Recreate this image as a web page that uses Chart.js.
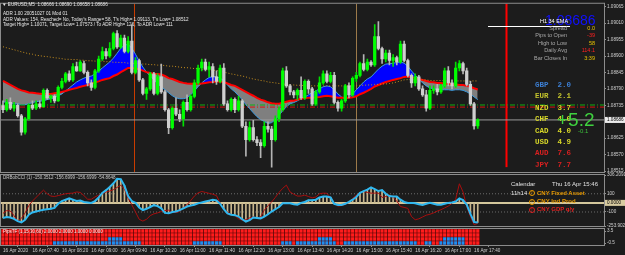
<!DOCTYPE html>
<html>
<head>
<meta charset="utf-8">
<script src="https://cdn.jsdelivr.net/npm/chart.js@4.4.0/dist/chart.umd.min.js"></script>
<style>
html, body { margin: 0; padding: 0; background: #1c1c1c; }
#wrap { position: relative; width: 625px; height: 255px; overflow: hidden; background: #1c1c1c;
        font-family: "Liberation Sans", Arial, sans-serif; }
canvas { position: absolute; left: 0; top: 0; }
.t { position: absolute; white-space: nowrap; line-height: 1; }
.r { text-align: right; }
.cur { font-family: "Liberation Mono", monospace; font-weight: bold; font-size: 7.5px; }
.ic { display: inline-block; width: 4px; height: 4px; border: 1px solid currentColor; border-radius: 50%;
      font-size: 4px; line-height: 4px; text-align: center; margin-right: 2px; vertical-align: middle; }
</style>
</head>
<body>
<div id="wrap">
  <canvas id="cMain" width="625" height="255"></canvas>
  <canvas id="cCci" width="625" height="255"></canvas>
  <canvas id="cGrid" width="625" height="255"></canvas>

  <!-- chart header -->
  <div class="t" style="left:2px;top:2.7px;font-size:4.6px;color:#e8e8e8">▼ EURUSD,M5&nbsp; 1.08666 1.08690 1.08658 1.08686</div>
  <div class="t" style="left:3px;top:11.8px;font-size:4.6px;color:#e8e8e8">ADR 1.00 20051027 01 Mod 01</div>
  <div class="t" style="left:3px;top:17.5px;font-size:4.6px;color:#e8e8e8">ADR Values: 154, Reached= No, Today's Range= 58, T's High= 1.09113, T's Low= 1.08512</div>
  <div class="t" style="left:3px;top:22.8px;font-size:4.6px;color:#e8e8e8">Target High= 1.10071, Target Low= 1.07573 / To ADR High= 126, To ADR Low= 111</div>

  <!-- info panel -->
  <div class="t" style="left:545px;top:13.2px;font-size:14px;color:#1010ff">1.08686</div>
  <div class="t" style="left:540px;top:19px;font-size:5.5px;color:#ffffff">H1 34 EMA</div>
  <div style="position:absolute;left:488px;top:26px;width:82px;height:1px;background:#ffffff"></div>
  <div class="t r" style="right:58px;top:26.3px;font-size:5.5px;color:#a8a8a8">Spread</div>
  <div class="t r" style="right:58px;top:33.3px;font-size:5.5px;color:#a8a8a8">Pips to Open</div>
  <div class="t r" style="right:58px;top:40.6px;font-size:5.5px;color:#a8a8a8">High to Low</div>
  <div class="t r" style="right:58px;top:48.1px;font-size:5.5px;color:#a8a8a8">Daily Avg</div>
  <div class="t r" style="right:58px;top:55.6px;font-size:5.5px;color:#a8a8a8">Bar Closes In</div>
  <div class="t r" style="right:30px;top:26.3px;font-size:5.5px;color:#e8c400">0.0</div>
  <div class="t r" style="right:30px;top:33.3px;font-size:5.5px;color:#ff2020">-39</div>
  <div class="t r" style="right:30px;top:40.6px;font-size:5.5px;color:#e8c400">58</div>
  <div class="t r" style="right:30px;top:48.1px;font-size:5.5px;color:#ff2020">114.1</div>
  <div class="t r" style="right:30px;top:55.6px;font-size:5.5px;color:#e8c400">3:39</div>

  <!-- currency strength -->
  <div class="t cur" style="left:535px;top:82px;color:#3c7fd4">GBP&nbsp; 2.0</div>
  <div class="t cur" style="left:535px;top:93.4px;color:#c4c42c">EUR&nbsp; 2.1</div>
  <div class="t cur" style="left:535px;top:104.8px;color:#d8d828">NZD&nbsp; 3.7</div>
  <div class="t cur" style="left:535px;top:116.2px;color:#d8d828">CHF&nbsp; 4.0</div>
  <div class="t cur" style="left:535px;top:127.6px;color:#d8d828">CAD&nbsp; 4.0</div>
  <div class="t cur" style="left:535px;top:139px;color:#d8d828">USD&nbsp; 4.9</div>
  <div class="t cur" style="left:535px;top:150.4px;color:#d82020">AUD&nbsp; 7.6</div>
  <div class="t cur" style="left:535px;top:161.8px;color:#d82020">JPY&nbsp; 7.7</div>
  <div class="t" style="left:557px;top:110px;font-size:19px;color:#3fd13f">+5.2</div>
  <div class="t" style="left:578px;top:127.7px;font-size:6px;color:#3cc03c">-0.1</div>

  <!-- CCI window texts -->
  <div class="t" style="left:3px;top:176.2px;font-size:4.5px;color:#c8c8c8">DRBobCCI (1) -150.3512 -156.6999 -156.6999 -54.8648</div>
  <div class="t" style="left:511px;top:181.3px;font-size:6px;color:#e0e0e0">Calendar</div>
  <div class="t" style="left:552px;top:181.3px;font-size:6px;color:#e0e0e0">Thu 16 Apr 15:46</div>
  <div class="t" style="left:511px;top:189.7px;font-size:6px;color:#e0e0e0">11h14</div>
  <div class="t" style="left:529px;top:189.7px;font-size:6px;font-weight:bold;color:#e89a00"><span class="ic">!</span>CNY Fixed Asset</div>
  <div class="t" style="left:529px;top:198.3px;font-size:6px;font-weight:bold;color:#e89a00"><span class="ic">!</span>CNY Ind Prod</div>
  <div class="t" style="left:529px;top:206.3px;font-size:6px;font-weight:bold;color:#e02020"><span class="ic">!</span>CNY GDP q/y</div>

  <!-- grid window text -->
  <div class="t" style="left:3px;top:229.8px;font-size:4.5px;color:#f0f0f0">PipsTF (1,15,30,60) 2.0000 2.0000 1.0000 0.0000</div>
</div>

<script>
// prices are kept in pips above base
const base = 1.08;
const pip = 0.0001;

const opens = [73.4,72,74.5,72.5,73.5,70,64.5,69,73.5,72.5,
  74,73,78.5,76,76.5,75,79.5,81.5,84,82,
  86.5,85,87.5,84.5,81,79.5,85,89,91.5,90,
  92.5,97.5,93,96,91.5,95,84.5,88.5,82,77.5,
  79,84,77.5,83,78,72,66,72.5,70.5,69,
  74.5,72,76.5,81,86,88,85.5,86.5,83,81.5,
  86,74,72,75.5,72,75,66.5,62,66,62,
  61,60,66.5,65.5,62,69,72,85,80,78,
  77,78.5,76,81.5,79,74,78,81,84,81.5,
  83.5,74.5,72.5,75,80,77,82.5,83.5,87.5,85.5,
  88,87,96.5,92.5,89,91,88.5,89.5,88,94,
  88.5,83.5,81,83,79,77,72.5,78.5,79,78,
  80,85,81,80,86,87.5,85,80.5,74,66.6];
const highs = [75,75.5,76,74.5,74,70.5,69.5,74,75,75,
  75,79,79,77,77,80,82.5,84.5,85,87.5,
  88,88.5,88.3,85,82,85.5,90,93,92.5,94.5,
  98,98.5,97,97,96.5,100.5,89.5,89,82.5,79.5,
  84.5,84.5,84,87.3,78.5,72.5,73,76,72,75,
  77,77,82,87,89,89,88,87.5,85,87,
  87.5,75,76,76,76.5,75.5,68,68,68.5,63,
  62,68,68,66.5,70,73,86,86.5,80.5,78.5,
  79,83,82,82,79.5,78.5,83,85,85,84.5,
  84.5,75,75.5,80.5,81,83,84.5,88,90.5,89,
  88.5,100.5,101.5,93,92,92,90.5,90,95,95,
  89,84,84,83.5,80,78.5,80,80,80.5,80.5,
  86,86.5,82,88,88.5,88,86,81.5,74.5,69];
const lows = [71,71.5,72,71.5,69.5,63.5,63.8,68.5,72,72,
  72.5,72.8,75.5,74.5,74.3,74.8,79,81,81.5,81.5,
  84.8,84.8,84,80,78.5,79,84.5,88.5,89,89.5,
  92,92.5,92.5,91,91,84,84,81.5,77,75.5,
  78.5,77,77,77.5,71.5,64,65.5,70,68,66.5,
  71.5,71.5,76,80.5,85,85,83,81,80.5,81,
  73.5,71.5,71.5,71,71.5,66,56.5,61.5,61.5,60,
  56,59.5,64.5,52.8,61.5,68,71.5,79.5,77,76,
  75.5,75.5,75.5,77.5,73.5,73.5,77.5,80.5,81,81,
  74,71.5,71.5,74.5,76,76.5,81.5,83,85,85,
  86.5,86.5,92,87.5,88,87,86.5,87,87.5,88,
  83,79.5,80,78.5,76.5,71.5,72,77.5,77,77.5,
  79.5,80,79,79.5,85,84,80,73.5,65.5,65.8];
const closes = [72,74.5,72.5,73.5,70,64.5,69,73.5,72.5,74,
  73,78.5,76,76.5,75,79.5,81.5,84,82,86.5,
  85,88,84.5,81,79.5,85,89,91.5,90,92.5,
  97.5,93,96,91.5,95,84.5,88.5,82,77.5,79,
  84,77.5,83,78,72,66,72.5,70.5,69,74.5,
  72,76.5,81,86,88,85.5,86.5,83,81.5,86,
  74,72,75.5,72,75,66.5,62,66,62,61,
  60,66.5,65.5,62,69,72,85,80,78,77,
  78.5,76,81.5,79,74,78,81,84,81.5,83.5,
  74.5,72.5,75,80,77,82.5,83.5,87.5,85.5,88,
  87,96.5,92.5,89,91,88.5,89.5,88,94,88.5,
  83.5,81,83,79,77,72.5,78.5,79,78,80,
  85,81,80,86,87.5,85,80.5,74,66.6,68.6];

// moving averages (pips)
const emaRed = [81.65,81.0,80.3,79.7,79.0,78.5,78.2,77.8,77.7,77.5,
  77.4,77.3,77.3,77.3,77.5,77.7,78.0,78.3,78.7,79.0,
  79.3,79.7,80.0,80.3,80.7,81.2,81.5,82.0,82.3,82.6,
  83.3,83.8,84.6,85.3,86.0,86.0,85.8,85.6,85.1,84.6,
  84.3,84.1,84.0,83.8,83.3,82.6,82.3,81.8,81.3,81.0,
  80.8,80.7,80.7,80.7,80.8,81.0,81.2,81.3,81.5,81.5,
  81.3,80.8,80.3,80.0,79.3,78.7,78.0,77.3,76.7,76.0,
  75.4,75.0,74.5,74.2,74.0,74.0,74.4,74.7,75.0,75.0,
  75.4,75.7,75.9,76.0,76.0,76.2,76.3,76.5,76.7,76.5,
  76.3,76.0,76.0,76.0,76.0,76.2,76.5,77.2,77.7,78.3,
  79.0,79.8,80.3,80.8,81.3,81.65,82.0,82.3,82.6,83.0,
  83.1,83.0,82.6,82.3,82.0,81.65,81.3,81.2,81.0,81.0,
  80.8,80.7,80.5,80.5,80.3,80.3,80.0,79.7,79.2,78.8];
const maBlue = [74.7,74.4,74.0,73.9,74.0,73.7,73.7,74.0,74.4,74.7,
  74.9,75.0,75.4,75.7,76.0,76.7,77.3,78.3,79.3,80.3,
  81.3,82.0,82.6,83.0,83.3,84.0,85.0,86.0,87.0,88.0,
  89.3,90.9,92.6,93.6,93.9,92.6,90.6,88.3,86.3,84.6,
  83.3,82.0,80.7,79.7,78.7,77.7,76.7,76.0,75.7,75.7,
  76.0,77.0,78.3,79.7,81.0,82.0,82.8,83.1,83.0,82.6,
  81.7,80.3,79.0,78.0,76.7,75.4,73.7,72.4,71.0,69.7,
  68.7,68.1,67.4,67.7,68.7,70.1,71.7,73.0,74.0,74.4,
  75.0,75.7,76.3,77.0,77.7,78.3,79.0,79.7,80.0,79.7,
  78.7,77.3,76.3,75.7,76.0,77.3,78.7,80.0,81.3,82.3,
  83.0,84.3,85.6,86.6,87.3,87.4,87.6,87.8,88.0,87.6,
  86.6,85.0,83.6,82.3,81.0,80.0,79.3,79.0,78.8,78.7,
  78.7,78.7,78.5,78.7,78.7,78.5,78.0,77.3,76.3,75.4];
const emaH1 = [93.1,92.75,92.4,92.1,91.75,91.4,91.1,90.75,90.6,90.25,
  90.1,89.9,89.8,89.6,89.4,89.3,89.1,88.9,88.9,88.8,
  88.8,88.6,88.6,88.4,88.4,88.3,88.3,88.3,88.1,88.1,
  87.9,87.9,87.8,87.8,87.6,87.6,87.45,87.45,87.3,87.3,
  87.1,87.1,86.95,86.95,86.8,86.6,86.6,86.45,86.3,86.1,
  86.1,85.95,85.8,85.8,85.6,85.5,85.3,85.3,85.1,85.0,
  84.6,84.3,84.0,83.8,83.5,83.3,83.0,82.6,82.3,82.1,
  81.8,81.65,81.3,81.15,81.0,80.8,80.65,80.5,80.3,80.3,
  80.2,80.2,80.0,80.0,80.0,80.0,80.0,80.0,80.0,80.0,
  80.0,80.0,80.0,80.0,80.0,80.0,80.0,80.2,80.2,80.3,
  80.3,80.5,80.5,80.65,80.65,80.8,81.0,81.3,81.65,82.0,
  82.1,82.1,82.0,82.0,82.0,82.0,81.8,81.8,81.8,81.8,
  81.65,81.65,81.65,81.65,81.65,81.65,81.65,81.65,81.65,81.65];

// dash-dot levels (pips): green, red
const levels = [73.6, 72.9];
const priceTicks = [1.08515, 1.08570, 1.08625, 1.08680, 1.08735, 1.08790,
  1.08845, 1.08900, 1.08955, 1.09010, 1.09065];

// CCI window
const cciFast = [-165,-155,-160,-175,-200,-215,-185,-130,-105,-95,
  -85,-75,-70,-65,-55,-10,20,35,50,35,
  20,25,10,5,0,20,60,110,140,175,
  215,265,260,190,75,20,0,-50,-80,-65,
  -45,-25,-35,-60,-110,-115,-100,-95,-80,-60,
  -40,-30,-20,-5,5,15,25,33,28,-10,
  -70,-115,-130,-135,-150,-180,-205,-190,-160,-165,
  -170,-150,-125,-95,-70,-45,-5,-5,-5,-15,
  -20,0,10,30,30,35,60,70,70,60,
  -10,-22,-22,-10,10,35,65,110,130,145,
  170,150,130,140,100,75,70,70,35,10,
  0,0,-5,-15,-22,-10,0,-10,-20,-20,
  -10,0,5,15,50,30,-20,-120,-210,-215];
const cciSlow = [-115,-85,-90,-140,-200,-170,-110,-30,20,60,
  100,140,100,75,70,80,90,100,105,107,
  120,115,80,40,40,65,85,100,120,130,
  145,170,195,150,50,-20,-100,-180,-200,-180,
  -140,-120,-110,-95,-85,-80,-105,-105,-95,-50,
  -20,25,75,110,125,115,105,95,80,0,
  -70,-100,-125,-140,-175,-190,-185,-165,-155,-165,
  -155,-80,-30,10,60,115,160,195,120,95,
  75,75,85,70,55,65,100,107,105,60,
  0,-35,-30,-15,5,50,85,115,125,115,
  107,107,107,60,70,85,60,20,-40,-50,
  -60,-150,-185,-175,-155,-135,-125,-110,-90,-75,
  -55,-35,-5,40,210,120,-40,-150,-240,-226];
const cciTicks = [306.2091, 100, 0, -100, -253.9021];
const cciTickLabels = ['306.2091', '100', '0.0000', '-100', '-253.9021'];

// pips grid: blue spans per row (bar index ranges), bottom row first
const gridBlue = [
  [[14,37],[52,59],[76,78],[80,90],[93,112],[115,116],[119,125]],
  [[29,32],[86,89],[120,125]],
  [],
  []
];

// time axis
const timeTickBars = [0,8,16,24,32,40,48,56,64,72,80,88,96,104,112,120,128];
const timeLabels = ['16 Apr 2020','16 Apr 07:40','16 Apr 08:20','16 Apr 09:00','16 Apr 09:40',
  '16 Apr 10:20','16 Apr 11:00','16 Apr 11:40','16 Apr 12:20','16 Apr 13:00','16 Apr 13:40',
  '16 Apr 14:20','16 Apr 15:00','16 Apr 15:40','16 Apr 16:20','16 Apr 17:00','16 Apr 17:40'];

// vertical markers (bar position)
const markerBars = [35.6, 95.8, 136.7];

const xMin = -0.815, xMax = 163.3;
const idx = closes.map((_, i) => i);
const xy = arr => arr.map((v, i) => ({ x: i, y: v }));
const hline = v => [{ x: xMin, y: v }, { x: xMax, y: v }];
const up = i => closes[i] >= opens[i];
const tickFont = { size: 4.6, family: 'Liberation Sans' };

const mtPlugin = {
  id: 'mt',
  beforeDatasetsDraw(chart, args, o) {
    const { ctx, chartArea: a, scales } = chart;
    (o.vlines || []).forEach(v => {
      const px = Math.round(scales.x.getPixelForValue(v.bar)) + 0.5;
      const yEnd = v.to == null ? a.bottom : scales.y.getPixelForValue(v.to);
      ctx.save();
      ctx.strokeStyle = v.color;
      ctx.lineWidth = v.width;
      ctx.beginPath();
      ctx.moveTo(px, a.top);
      ctx.lineTo(px, yEnd);
      ctx.stroke();
      ctx.restore();
    });
  },
  afterDraw(chart, args, o) {
    const { ctx, chartArea: a, scales } = chart;
    ctx.save();
    ctx.strokeStyle = '#8c8c8c';
    ctx.lineWidth = 1;
    ctx.strokeRect(0.5, a.top - 0.5, a.right, a.bottom - a.top + 1);
    if (o.tag) {
      const y = scales.y.getPixelForValue(o.tag.value);
      ctx.fillStyle = o.tag.bg;
      ctx.fillRect(a.right + 1, y - 3, 20, 6);
      ctx.fillStyle = '#000';
      ctx.font = '4.6px "Liberation Sans"';
      ctx.textBaseline = 'middle';
      ctx.fillText(o.tag.text, a.right + 3, y + 0.3);
    }
    ctx.restore();
  }
};

const rightAxis = (min, max, ticks, label) => ({
  position: 'right', min, max,
  afterFit: s => { s.width = 21; },
  afterBuildTicks: s => { s.ticks = ticks.map(v => ({ value: v })); },
  ticks: { autoSkip: false, font: tickFont, color: '#d0d0d0', padding: 1,
           callback: (v, i) => label(i) },
  grid: { drawOnChartArea: false, tickLength: 2, color: '#909090' },
  border: { display: false }
});

const common = {
  responsive: false, animation: false, events: [],
  plugins: { legend: { display: false }, tooltip: { enabled: false } }
};

// main price window
new Chart(document.getElementById('cMain'), {
  type: 'bar',
  data: { datasets: [
    { type: 'line', label: 'MA', data: xy(maBlue), borderColor: '#3c9be0', borderWidth: 1,
      pointRadius: 0, fill: { target: 1, above: '#0000ff', below: '#7f7f7f' }, order: 9 },
    { type: 'line', label: 'EMA', data: xy(emaRed), borderColor: '#ff0000', borderWidth: 2,
      pointRadius: 0, fill: false, order: 8 },
    { type: 'line', label: 'H1 34 EMA', data: xy(emaH1), borderColor: '#c8901e', borderWidth: 1,
      borderDash: [1, 2], pointRadius: 0, fill: false, order: 7 },
    { type: 'line', data: hline(levels[0]), borderColor: '#12b012', borderWidth: 1,
      borderDash: [5, 2, 1, 2], pointRadius: 0, fill: false, order: 6 },
    { type: 'line', data: hline(levels[1]), borderColor: '#e01010', borderWidth: 1,
      borderDash: [5, 2, 1, 2], pointRadius: 0, fill: false, order: 6 },
    { type: 'line', data: hline(closes[closes.length - 1]), borderColor: '#9a9a9a', borderWidth: 1,
      pointRadius: 0, fill: false, order: 6 },
    { label: 'wick', data: idx.map(i => ({ x: i, y: [lows[i], highs[i]] })), grouped: false,
      backgroundColor: c => up(c.dataIndex) ? '#00e000' : '#b4b4b4', barThickness: 1, order: 2 },
    { label: 'body', data: idx.map(i => ({ x: i, y: [opens[i], closes[i]] })), grouped: false,
      backgroundColor: c => up(c.dataIndex) ? '#00ff00' : '#cfcfcf', barThickness: 2.6, order: 1 }
  ]},
  options: { ...common,
    layout: { padding: { top: 2, bottom: 83, left: 0, right: 0 } },
    plugins: { ...common.plugins,
      mt: { vlines: [
              { bar: markerBars[0], color: '#c83c00', width: 1 },
              { bar: markerBars[1], color: '#9c7a4a', width: 1 },
              { bar: markerBars[2], color: '#ff0000', width: 2, to: 52.8 } ],
            tag: { value: closes[closes.length - 1], text: (base + closes[closes.length - 1] * pip).toFixed(5), bg: '#ececec' } } },
    scales: {
      x: { type: 'linear', min: xMin, max: xMax, display: false, offset: false },
      y: rightAxis(51.17, 107.49, priceTicks.map(p => (p - base) / pip), i => priceTicks[i].toFixed(5))
    }
  },
  plugins: [mtPlugin]
});

// CCI window
new Chart(document.getElementById('cCci'), {
  type: 'bar',
  data: { datasets: [
    { type: 'line', data: hline(0), borderColor: '#d4c79c', borderWidth: 2, pointRadius: 0, order: 9 },
    { type: 'line', data: hline(100), borderColor: '#6c6c6c', borderWidth: 1, borderDash: [1, 2], pointRadius: 0, order: 9 },
    { type: 'line', data: hline(-100), borderColor: '#6c6c6c', borderWidth: 1, borderDash: [1, 2], pointRadius: 0, order: 9 },
    { label: 'hist', data: xy(cciFast), backgroundColor: '#c8b68e', barThickness: 1, grouped: false, order: 8 },
    { type: 'line', label: 'CCI slow', data: xy(cciSlow), borderColor: '#a80e0e', borderWidth: 1, pointRadius: 0, order: 3 },
    { type: 'line', label: 'CCI', data: xy(cciFast), borderColor: '#2fb8f0', borderWidth: 2, pointRadius: 0, order: 1 }
  ]},
  options: { ...common,
    layout: { padding: { top: 175, bottom: 29, left: 0, right: 0 } },
    plugins: { ...common.plugins, mt: { tag: { value: 0, text: '0.0000', bg: '#d8cba0' } } },
    scales: {
      x: { type: 'linear', min: xMin, max: xMax, display: false, offset: false },
      y: rightAxis(-253.9021, 306.2091, cciTicks, i => cciTickLabels[i])
    }
  },
  plugins: [mtPlugin]
});

// pips grid window with the time axis
const isBlue = (row, i) => gridBlue[row].some(([a, b]) => i >= a && i <= b);
new Chart(document.getElementById('cGrid'), {
  type: 'bar',
  data: { datasets: gridBlue.map((_, r) => ({
    data: idx.map(i => ({ x: i, y: 1 })),
    backgroundColor: c => isBlue(r, c.dataIndex) ? '#1f8ef0' : '#ff1c1c',
    borderColor: '#5a0808', borderWidth: 0.6, borderSkipped: false,
    barThickness: 3.68, stack: 'g'
  })) },
  options: { ...common,
    layout: { padding: { top: 229, bottom: 0, left: 0, right: 0 } },
    plugins: { ...common.plugins, mt: {} },
    scales: {
      x: { type: 'linear', min: xMin, max: xMax, offset: false, stacked: true,
           afterFit: s => { s.height = 10; },
           afterBuildTicks: s => { s.ticks = timeTickBars.map(v => ({ value: v })); },
           ticks: { autoSkip: false, maxRotation: 0, align: 'start', font: tickFont, color: '#d0d0d0',
                    padding: 1, callback: (v, i) => timeLabels[i] },
           grid: { drawOnChartArea: false, tickLength: 2, color: '#909090' },
           border: { display: false } },
      y: { ...rightAxis(0, 4, [3.5, 0.5], i => ['3.5', '-0.5'][i]), stacked: true }
    }
  },
  plugins: [mtPlugin]
});
</script>
</body>
</html>
